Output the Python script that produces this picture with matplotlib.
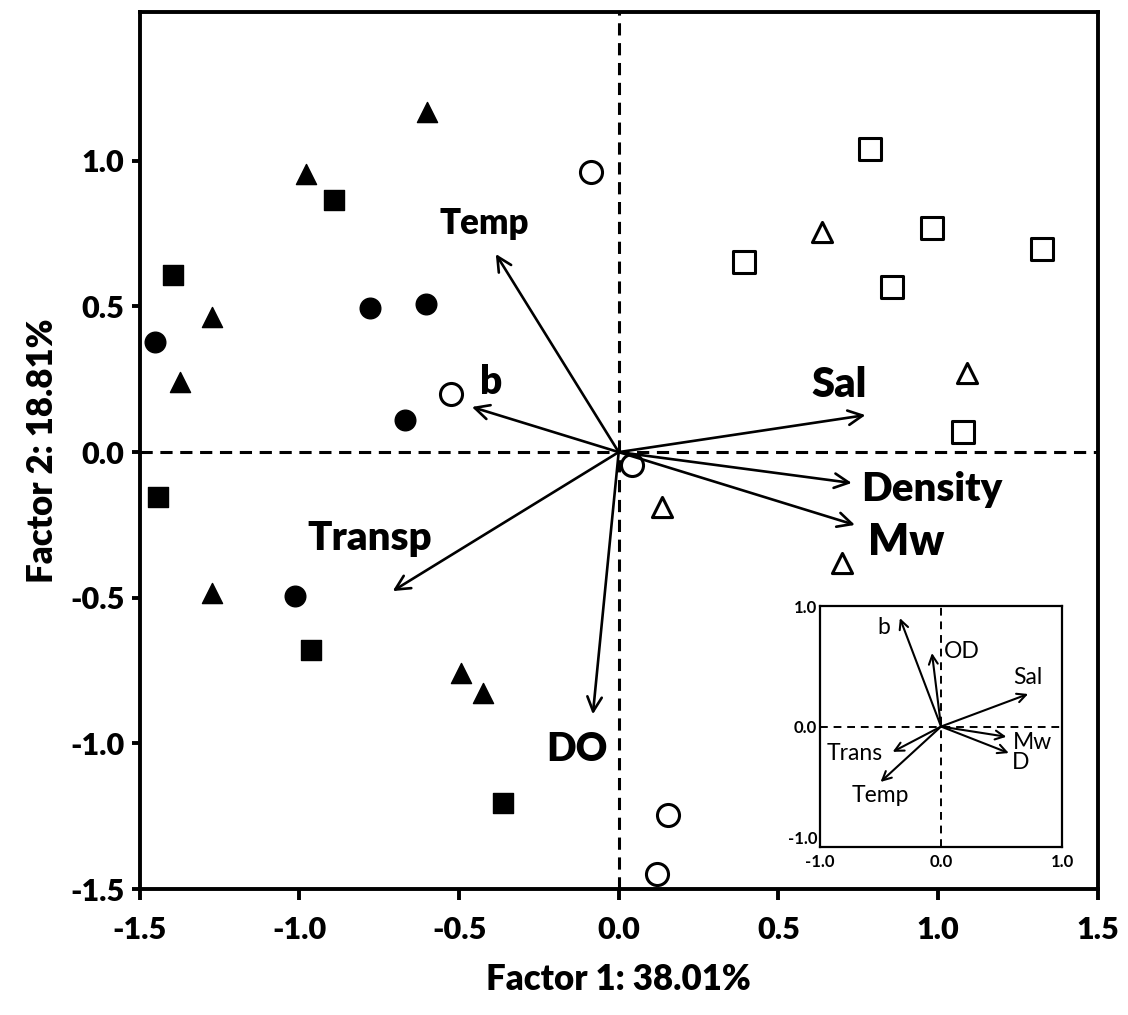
import matplotlib
matplotlib.use("Agg")
import matplotlib.pyplot as plt

plt.rcParams["font.family"] = ["Lato", "DejaVu Sans"]

# Sample scores (Factor 1, Factor 2) by group
tri_filled_x = [-0.60, -0.98, -1.275, -1.375, -1.275, -0.495, -0.426]
tri_filled_y = [1.167, 0.954, 0.463, 0.24, -0.484, -0.759, -0.827]
sq_filled_x = [-0.893, -1.397, -1.444, -0.965, -0.363]
sq_filled_y = [0.865, 0.608, -0.154, -0.680, -1.205]
circ_filled_x = [-1.453, -0.78, -0.604, -0.67, -1.015]
circ_filled_y = [0.378, 0.494, 0.508, 0.11, -0.494]
circ_open_x = [-0.088, -0.526, 0.041, 0.153, 0.119]
circ_open_y = [0.961, 0.199, -0.045, -1.246, -1.449]
tri_open_x = [0.636, 1.09, 0.135, 0.698]
tri_open_y = [0.755, 0.271, -0.189, -0.381]
sq_open_x = [0.786, 0.391, 0.980, 0.855, 1.325, 1.080]
sq_open_y = [1.040, 0.652, 0.769, 0.566, 0.697, 0.069]

# Variable loadings (main biplot)
var_names = ["Temp", "b", "Sal", "Density", "Mw", "Transp", "DO"]
var_x = [-0.385, -0.46, 0.773, 0.73, 0.74, -0.708, -0.081]
var_y = [0.68, 0.155, 0.127, -0.106, -0.25, -0.477, -0.90]
label_x = [-0.42, -0.40, 0.69, 0.98, 0.90, -0.78, -0.13]
label_y = [0.786, 0.24, 0.23, -0.13, -0.31, -0.295, -1.02]
label_size = [25, 28, 30, 29, 31, 29, 28]

# Inset loadings
ins_names = ["b", "OD", "Sal", "Mw", "D", "Trans", "Temp"]
ins_x = [-0.34, -0.075, 0.72, 0.54, 0.56, -0.40, -0.50]
ins_y = [0.90, 0.61, 0.27, -0.085, -0.22, -0.21, -0.46]
ins_lx = [-0.47, 0.17, 0.72, 0.76, 0.66, -0.71, -0.50]
ins_ly = [0.82, 0.62, 0.41, -0.13, -0.30, -0.22, -0.57]

fig = plt.figure(figsize=(11.28, 10.15), dpi=100)
ax = fig.add_axes([0.124, 0.124, 0.849, 0.864])

ax.axvline(0, color="black", lw=2.2, ls=(0, (4, 2.5)), zorder=1)
ax.axhline(0, color="black", lw=2.2, ls=(0, (4, 2.5)), zorder=1)

ms = 210
ax.scatter(tri_filled_x, tri_filled_y, marker="^", s=ms, c="black", zorder=3)
ax.scatter(sq_filled_x, sq_filled_y, marker="s", s=ms * 0.95, c="black", zorder=3)
ax.scatter(circ_filled_x, circ_filled_y, marker="o", s=ms * 1.05, c="black", zorder=3)
ax.scatter(circ_open_x, circ_open_y, marker="o", s=ms * 1.2, facecolors="white",
           edgecolors="black", linewidths=2.2, zorder=3)
ax.scatter(tri_open_x, tri_open_y, marker="^", s=ms, facecolors="white",
           edgecolors="black", linewidths=2.2, zorder=3)
ax.scatter(sq_open_x, sq_open_y, marker="s", s=ms * 1.3, facecolors="white",
           edgecolors="black", linewidths=2.2, zorder=3)

for i in range(len(var_names)):
    ax.annotate("", xy=(var_x[i], var_y[i]), xytext=(0, 0),
                arrowprops=dict(arrowstyle="->", lw=1.9, color="black",
                                mutation_scale=26, shrinkA=0, shrinkB=0),
                zorder=4)
    ax.text(label_x[i], label_y[i], var_names[i], fontsize=label_size[i],
            fontweight="heavy", ha="center", va="center", zorder=5)

ax.set_xlim(-1.5, 1.5)
ax.set_ylim(-1.5, 1.51)
ax.set_xticks([-1.5, -1.0, -0.5, 0.0, 0.5, 1.0, 1.5])
ax.set_yticks([-1.5, -1.0, -0.5, 0.0, 0.5, 1.0])
ax.set_xticklabels(["-1.5", "-1.0", "-0.5", "0.0", "0.5", "1.0", "1.5"])
ax.set_yticklabels(["-1.5", "-1.0", "-0.5", "0.0", "0.5", "1.0"])
for sp in ax.spines.values():
    sp.set_linewidth(2.8)
ax.tick_params(axis="x", direction="out", length=8, width=2.8, pad=11,
               labelsize=22)
ax.tick_params(axis="y", direction="out", length=6, width=2.8, pad=5,
               labelsize=22)
for lab in ax.get_xticklabels() + ax.get_yticklabels():
    lab.set_fontweight("heavy")
ax.set_xlabel("Factor 1: 38.01%", fontsize=25, fontweight="heavy", labelpad=14)
ax.set_ylabel("Factor 2: 18.81%", fontsize=25, fontweight="heavy", labelpad=8)

# Inset
ins = fig.add_axes([0.727, 0.1655, 0.2145, 0.2374])
ins.axvline(0, color="black", lw=1.4, ls=(0, (4, 3)))
ins.axhline(0, color="black", lw=1.4, ls=(0, (4, 3)))
for i in range(len(ins_names)):
    ins.annotate("", xy=(ins_x[i], ins_y[i]), xytext=(0, 0),
                 arrowprops=dict(arrowstyle="->", lw=1.5, color="black",
                                 mutation_scale=16, shrinkA=0, shrinkB=0))
    ins.text(ins_lx[i], ins_ly[i], ins_names[i], fontsize=16.5,
             ha="center", va="center")
ins.set_xlim(-1, 1)
ins.set_ylim(-1, 1)
ins.set_xticks([-1, 0, 1])
ins.set_yticks([-1, 0, 1])
ins.set_xticklabels(["-1.0", "0.0", "1.0"])
ins.set_yticklabels(["-1.0", "0.0", "1.0"])
for sp in ins.spines.values():
    sp.set_linewidth(1.6)
ins.tick_params(axis="x", length=0, labelsize=12, pad=5)
ins.tick_params(axis="y", length=0, labelsize=12, pad=2)
for lab in ins.get_xticklabels() + ins.get_yticklabels():
    lab.set_fontweight("bold")
ins.get_yticklabels()[0].set_verticalalignment("bottom")

fig.savefig("out.png", dpi=100)
